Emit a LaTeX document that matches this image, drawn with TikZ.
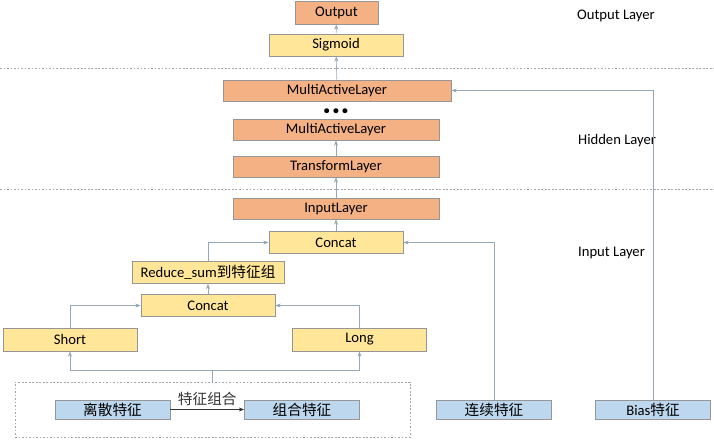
\documentclass[tikz,border=0pt]{standalone}
\usepackage{fontspec}
\setmainfont{Carlito}
\newfontfamily\cjk{Noto Sans CJK SC}
\usepackage{tikz}
\usetikzlibrary{arrows.meta, positioning}
\definecolor{layerOrange}{RGB}{244,177,131}
\definecolor{opYellow}{RGB}{255,230,153}
\definecolor{featBlue}{RGB}{189,215,238}
\definecolor{edgeGray}{RGB}{150,150,150}
\definecolor{lineBlue}{RGB}{150,168,182}

\begin{document}
\begin{tikzpicture}[
    x=0.03cm, y=-0.03cm,
    box/.style={rectangle, draw=edgeGray, line width=0.6pt, align=center,
        inner sep=1pt, font=\fontsize{12.5}{14}\selectfont},
    layer/.style={box, fill=layerOrange, minimum width=6.18cm, minimum height=0.63cm},
    op/.style={box, fill=opYellow, minimum width=4.02cm, minimum height=0.65cm},
    feat/.style={box, fill=featBlue, minimum width=3.45cm, minimum height=0.57cm},
    arr/.style={-{Stealth[length=1.6mm, width=1.2mm]}, line width=0.5pt, lineBlue},
    sep/.style={dashed, dash pattern=on 1.5pt off 1.5pt, line width=0.5pt, gray!70},
    lbl/.style={font=\fontsize{12.5}{14}\selectfont, anchor=west}
]
\useasboundingbox (0,0) rectangle (714,440);

% separators
\draw[sep] (0,68) -- (714,68);
\draw[sep] (0,189) -- (714,189);

% output layer
\node[layer, minimum width=2.49cm, minimum height=0.69cm] (output) at (336.5,12.5) {Output};
\node[op, minimum height=0.66cm] (sigmoid) at (336,45) {Sigmoid};

% hidden layer
\node[layer, minimum width=6.84cm] (mal1) at (337,90.5) {MultiActiveLayer};
\node[font=\bfseries] (dots) at (336,112) {\textbullet\;\textbullet\;\textbullet};
\node[layer] (mal2) at (336,129.5) {MultiActiveLayer};
\node[layer] (transform) at (336,166.5) {TransformLayer};

% input layer
\node[layer] (inputl) at (336,208.5) {InputLayer};
\node[op] (concat1) at (336,242.5) {Concat};
\node[op, minimum width=4.56cm] (reduce) at (208,272.5) {Reduce\_sum{\cjk 到特征组}};
\node[op] (concat2) at (208,305.5) {Concat};
\node[op, minimum height=0.69cm] (short) at (70,339.5) {Short};
\node[op, minimum height=0.69cm] (long) at (359.5,339.5) {Long};

% features
\node[draw=gray!80, sep, minimum width=11.85cm, minimum height=1.65cm] (combo) at (212.5,409.5) {};
\node[feat] (discrete) at (112.5,409.5) {\cjk 离散特征};
\node[feat] (crossed) at (302,409.5) {\cjk 组合特征};
\node[feat] (cont) at (494,409.5) {\cjk 连续特征};
\node[feat] (bias) at (653,409.5) {Bias{\cjk 特征}};

\coordinate (split) at (212.5,370);

% layer names
\node[lbl] (outname) at (573,16) {Output Layer};
\node[lbl] (hidname) at (574,141) {Hidden Layer};
\node[lbl] (inname) at (574,253) {Input Layer};

% connectors
\draw[arr] (sigmoid) -- (output);
\draw[arr] (mal1) -- (sigmoid);
\draw[arr] (bias) |- (mal1);
\draw[arr] (transform) -- (mal2);
\draw[arr] (inputl) -- (transform);
\draw[arr] (concat1) -- (inputl);
\draw[arr] (reduce) |- (concat1);
\draw[arr] (cont) |- (concat1);
\draw[arr] (concat2) -- (reduce);
\draw[arr] (short) |- (concat2);
\draw[arr] (long) |- (concat2);
\draw[lineBlue, line width=0.5pt] (combo) -- (split);
\draw[arr] (split) -| (short);
\draw[arr] (split) -| (long);
\draw[-{Stealth[length=1.6mm]}, line width=0.6pt, black!80] (discrete) -- (crossed)
    node[midway, above, font=\cjk\fontsize{12.5}{14}\selectfont] {特征组合};
\end{tikzpicture}
\end{document}
